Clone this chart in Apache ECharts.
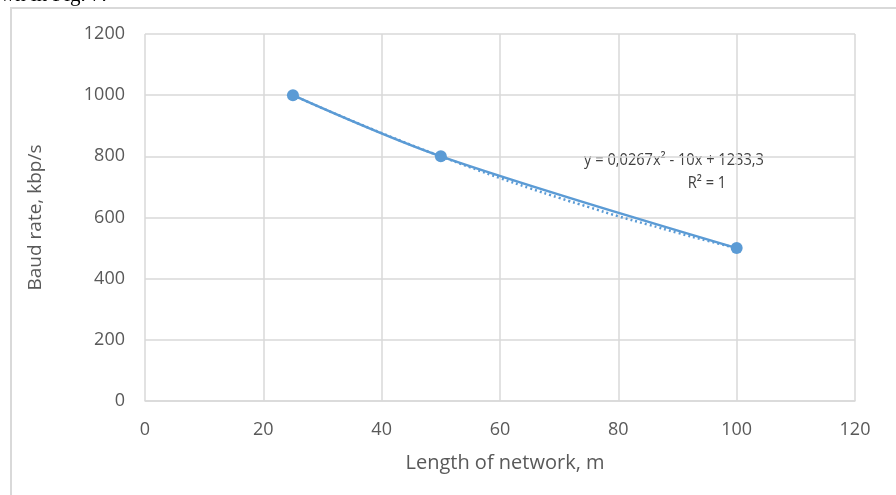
<!DOCTYPE html>
<html><head><meta charset="utf-8">
<script src="https://cdn.jsdelivr.net/npm/echarts@6/dist/echarts.min.js"></script>
<style>html,body{margin:0;padding:0;background:#fff;}#c{width:896px;height:495px;}</style>
</head><body><div id="c"></div>
<script>
const lengths = [25, 50, 100];
const baudRates = [1000, 800, 500];
const trendX = [25, 30, 35, 40, 45, 50, 55, 60, 65, 70, 75, 80, 85, 90, 95, 100];
const trendY = [1000, 957, 916, 876, 837, 800, 764, 729, 696, 664, 634, 604, 577, 550, 524, 500];
const xTicks = [0, 20, 40, 60, 80, 100, 120];
const yTicks = [0, 200, 400, 600, 800, 1000, 1200];
const eqText = 'y = 0,0267x² - 10x + 1233,3';
const r2Text = 'R² = 1';
const xName = 'Length of network, m';
const yName = 'Baud rate, kbp/s';

const font = '"Open Sans", Lato, sans-serif';
const chart = echarts.init(document.getElementById('c'), null, {renderer: 'canvas'});
chart.setOption({
  animation: false,
  backgroundColor: '#fff',
  grid: {left: 145, right: 41, top: 34, bottom: 94},
  xAxis: {
    type: 'value', min: xTicks[0], max: xTicks[xTicks.length-1], interval: 20,
    name: xName, nameLocation: 'middle', nameGap: 52,
    nameTextStyle: {color: '#595959', fontSize: 20, fontFamily: font, padding: [0, 0, 0, 10]},
    axisLine: {show: true, lineStyle: {color: '#d9d9d9', width: 1.5}},
    axisTick: {show: false},
    axisLabel: {color: '#595959', fontSize: 18, fontFamily: font, margin: 20, formatter: v => String(v)},
    splitLine: {show: true, lineStyle: {color: '#d9d9d9', width: 1.5}}
  },
  yAxis: {
    type: 'value', min: yTicks[0], max: yTicks[yTicks.length-1], interval: 200,
    name: yName, nameLocation: 'middle', nameGap: 100, nameRotate: 90,
    nameTextStyle: {color: '#595959', fontSize: 19, fontFamily: font},
    axisLine: {show: false},
    axisTick: {show: false},
    axisLabel: {color: '#595959', fontSize: 18, fontFamily: font, margin: 20, formatter: v => String(v)},
    splitLine: {show: true, lineStyle: {color: '#d9d9d9', width: 1.5}}
  },
  series: [
    {
      type: 'line', data: trendX.map((x, i) => [x, trendY[i]]),
      smooth: true, symbol: 'none',
      lineStyle: {color: '#5B9BD5', width: 2.5, type: [2, 3]}, z: 2
    },
    {
      type: 'line', data: lengths.map((x, i) => [x, baudRates[i]]),
      smooth: 0.35, symbol: 'circle', symbolSize: 12,
      itemStyle: {color: '#5B9BD5'},
      lineStyle: {color: '#5B9BD5', width: 2.5}, z: 3
    }
  ],
  graphic: [
    {type: 'rect', shape: {x: 11, y: 8, width: 1000, height: 600}, style: {fill: 'none', stroke: '#d9d9d9', lineWidth: 2}, z: -1},
    {type: 'text', left: 0, top: -15, style: {text: 'wn in Fig. 7.', font: '21px "Liberation Serif", serif', fill: '#000'}},
    {type: 'text', x: 674, y: 160, scaleX: 0.86, style: {text: eqText, font: '17px ' + font, fill: '#404040', align: 'center', verticalAlign: 'middle'}},
    {type: 'text', x: 707, y: 183, scaleX: 0.86, style: {text: r2Text, font: '17px ' + font, fill: '#404040', align: 'center', verticalAlign: 'middle'}}
  ]
});
</script></body></html>
